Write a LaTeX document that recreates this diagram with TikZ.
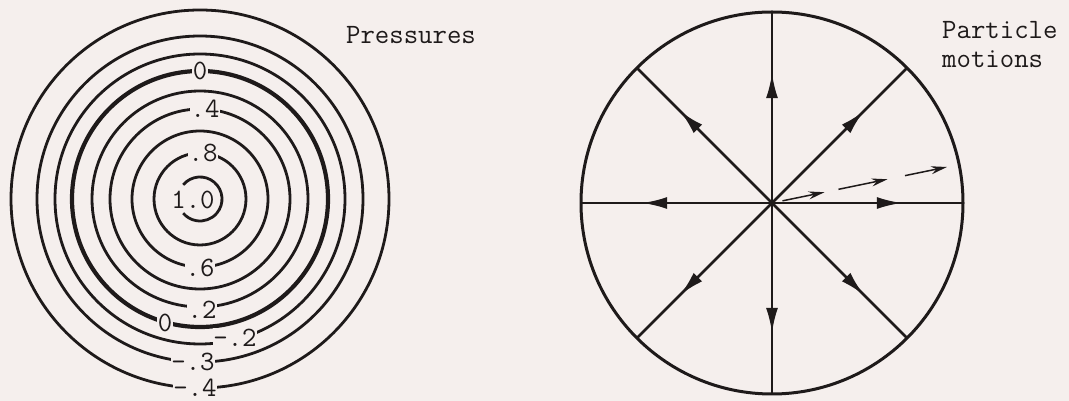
\documentclass[tikz,border=0pt]{standalone}
\usepackage{xcolor}
\definecolor{paper}{RGB}{245,239,237}
\definecolor{ink}{RGB}{30,26,26}
\usepackage{tikz}
\usetikzlibrary{arrows.meta,calc,decorations.markings}
\tikzset{
  contour/.style={draw=ink, line width=2.8pt},
  contourzero/.style={draw=ink, line width=4.2pt},
  level/.style={fill=paper, inner sep=0.8pt, text=ink,
                font=\fontsize{28}{26}\selectfont\ttfamily},
  caption/.style={text=ink, inner sep=0pt, align=left,
                  font=\fontsize{28}{29}\selectfont\ttfamily},
  spoke/.style={draw=ink, line width=2.6pt, postaction={decorate},
    decoration={markings,
      mark=at position 0.68 with {\arrow{Latex[length=25pt,width=12pt]}}}},
  drift/.style={draw=ink, line width=1.5pt, -{Stealth[length=16pt,width=8pt]}},
}

\begin{document}
\begin{tikzpicture}[x=1pt,y=1pt]
\fill[paper] (0,0) rectangle (1069,401);
\useasboundingbox (0,0) rectangle (1069,401);

% pressure contours
\coordinate (pcen) at (200,202);
\foreach \r in {46,68,90,108,145,163,189}
  \draw[contour] (pcen) circle[radius=\r pt];
\draw[contourzero] (pcen) circle[radius=128pt];
\draw[contour] ($(pcen)+(140:22pt)$) arc[start angle=140, end angle=-140, radius=22pt];

\node[level] (lzerotop) at (200,330) {0};
\node[level] (lfour)    at (205,292) {.4};
\node[level] (leight)   at (203,248) {.8};
\node[caption]  (lone)  at (193,201) {1.0};
\node[level] (lsix)     at (200,133) {.6};
\node[level] (ltwo)     at (202,91)  {.2};
\node[level] (lzerobot) at (165,78)  {0};
\node[level] (lmtwo)    at (235,63)  {-.2};
\node[level] (lmthree)  at (193,39)  {-.3};
\node[level] (lmfour)   at (195,13)  {-.4};

\node[caption] (press) at (411,366) {Pressures};

% particle motions
\node[circle, draw=ink, line width=3pt, minimum size=382pt,
      inner sep=0pt, outer sep=0pt] (rim) at (772,198) {};
\foreach \a in {0,45,...,315}
  \draw[spoke] (rim.center) -- (rim.\a);

\coordinate (dend) at (947,234);
\foreach \s/\e in {0.06/0.30,0.38/0.66,0.76/1.0}
  \draw[drift] ($(rim.center)!\s!(dend)$) -- ($(rim.center)!\e!(dend)$);

\node[caption, anchor=north west] (part) at (942,380) {Particle\\motions};
\end{tikzpicture}
\end{document}
